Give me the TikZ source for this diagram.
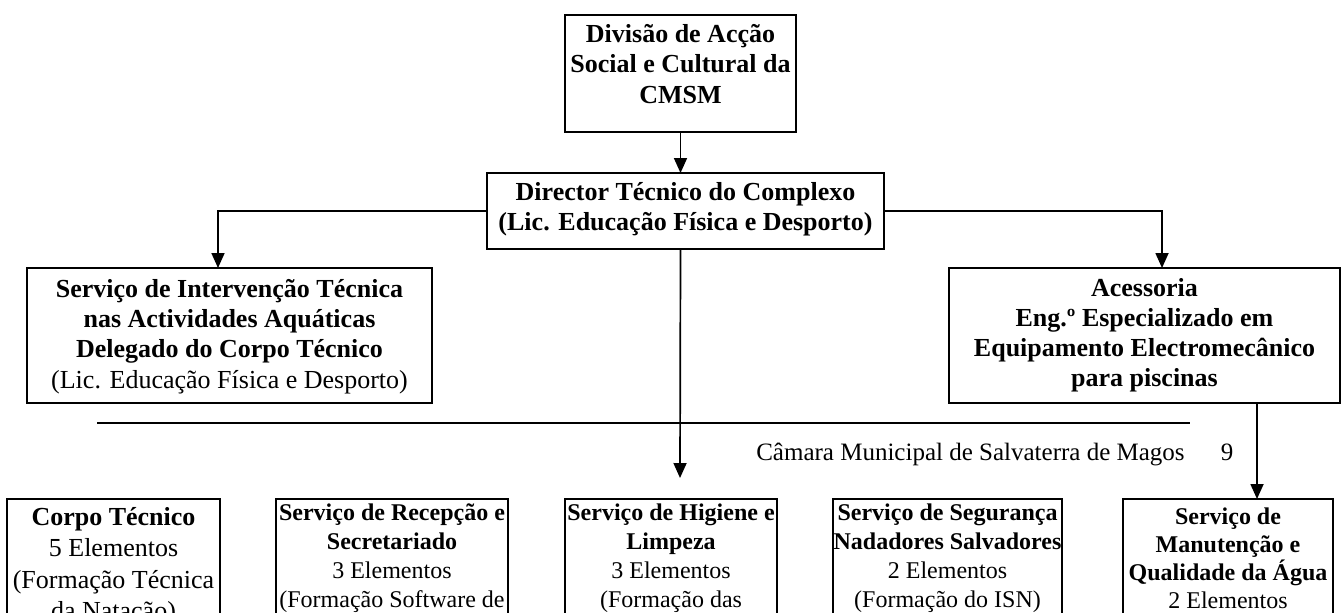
\documentclass[tikz,border=0pt]{standalone}
\usepackage{fontspec}
\setmainfont{Liberation Serif}
\usetikzlibrary{arrows.meta}
\newcommand{\bxt}[6]{\parbox[c][#2][t]{#1}{\centering\fontsize{#4}{#5}\selectfont\rule{0pt}{#3}#6}}
\tikzset{
  box/.style={draw, line width=1.3pt, inner sep=0pt, outer sep=0pt, anchor=north west},
  conn/.style={line width=0.85pt},
  arr/.style={conn, -{Triangle[width=6.5pt,length=7.5pt]}},
  foottext/.style={inner sep=0pt, font=\fontsize{12.5pt}{15pt}\selectfont}
}
\begin{document}
\begin{tikzpicture}[x=0.5pt,y=-0.5pt]
\useasboundingbox (0,0) rectangle (1343,612);
\clip (0,0) rectangle (1343,612);

\node[box] (top) at (565,15) {\bxt{115.5pt}{58.5pt}{13.5pt}{13pt}{15.25pt}{\bfseries Divisão de Acção\\Social e Cultural da\\CMSM}};

\node[box] (dir) at (487,173) {\bxt{198.5pt}{38pt}{13.5pt}{13pt}{15pt}{\bfseries Director Técnico do Complexo\\(Lic. Educação Física e Desporto)}};

\node[box] (ssi) at (27,268) {\bxt{202.5pt}{67.5pt}{14.5pt}{13pt}{15.2pt}{\textbf{Serviço de Intervenção Técnica}\\\textbf{nas Actividades Aquáticas}\\\textbf{Delegado do Corpo Técnico}\\(Lic. Educação Física e Desporto)}};

\node[box] (acc) at (949,268) {\bxt{195.5pt}{67.5pt}{14pt}{13pt}{15pt}{\bfseries Acessoria\\Eng.º Especializado em\\Equipamento Electromecânico\\para piscinas}};

\node[box] (b1) at (7,499) {\bxt{106.5pt}{75pt}{13pt}{13pt}{15.75pt}{\textbf{Corpo Técnico}\\5 Elementos\\(Formação Técnica\\da Natação)}};

\node[box] (b2) at (276,499) {\bxt{116pt}{75pt}{10.5pt}{12pt}{14.5pt}{\textbf{Serviço de Recepção e}\\\textbf{Secretariado}\\3 Elementos\\(Formação Software de}};

\node[box] (b3) at (565,499) {\bxt{106pt}{75pt}{10.5pt}{12pt}{14.5pt}{\textbf{Serviço de Higiene e}\\\textbf{Limpeza}\\3 Elementos\\(Formação das}};

\node[box] (b4) at (833,499) {\bxt{114.5pt}{75pt}{10.5pt}{12pt}{14.5pt}{\textbf{Serviço de Segurança}\\\textbf{Nadadores Salvadores}\\2 Elementos\\(Formação do ISN)}};

\node[box] (b5) at (1123,499) {\bxt{105pt}{75pt}{12.5pt}{12pt}{14pt}{\textbf{Serviço de}\\\textbf{Manutenção e}\\\textbf{Qualidade da Água}\\2 Elementos}};

\coordinate (lx) at (218,0);
\coordinate (rx) at (1162,0);
\coordinate (ax) at (1257,0);
\coordinate (cend) at (680,478);
\coordinate (hl1) at (97,423);
\coordinate (hl2) at (1190,423);

\draw[arr] (top.south) -- (top.south |- dir.north);
\draw[arr] (dir.west) -| (lx |- ssi.north);
\draw[arr] (dir.east) -| (rx |- acc.north);
\draw[arr] (top.south |- dir.south) -- (cend);
\draw[arr] (ax |- acc.south) -- (ax |- b5.north);

\draw[conn] (hl1) -- (hl2);
\node[foottext, anchor=base east] (foot) at (1185,460) {Câmara Municipal de Salvaterra de Magos};
\node[foottext, anchor=base] (pg) at (1227,460) {9};
\end{tikzpicture}
\end{document}
